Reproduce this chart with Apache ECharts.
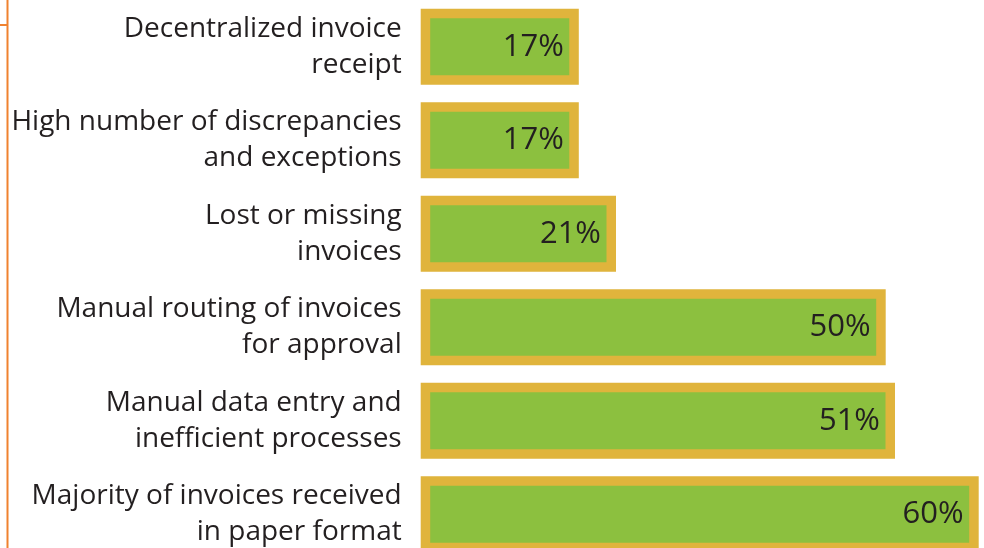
<!DOCTYPE html>
<html>
<head>
<meta charset="utf-8">
<script src="https://cdn.jsdelivr.net/npm/echarts@6/dist/echarts.min.js"></script>
<style>
  html, body { margin: 0; padding: 0; background: #fff; }
  #chart { width: 984px; height: 548px; }
</style>
</head>
<body>
<div id="chart"></div>
<script>
// top to bottom
const categories = [
  'Decentralized invoice\nreceipt',
  'High number of discrepancies\nand exceptions',
  'Lost or missing\ninvoices',
  'Manual routing of invoices\nfor approval',
  'Manual data entry and\ninefficient processes',
  'Majority of invoices received\nin paper format'
]
const percents = [17, 17, 21, 50, 51, 60]

const chart = echarts.init(document.getElementById('chart'))

chart.setOption({
  animation: false,
  grid: {
    left: 420.7,
    top: 0,
    width: 558,
    height: 561,
    outerBoundsMode: 'none',
    containLabel: false
  },
  xAxis: {
    type: 'value',
    min: 0,
    max: 60,
    show: false
  },
  yAxis: {
    type: 'category',
    inverse: true,
    data: categories,
    axisLine: { show: false },
    axisTick: { show: false },
    axisLabel: {
      margin: 19,
      fontFamily: 'Open Sans',
      fontSize: 28,
      lineHeight: 36,
      color: '#231f20',
      align: 'right'
    }
  },
  series: [{
    type: 'bar',
    data: percents,
    barWidth: 76,
    itemStyle: {
      color: '#8cc03f',
      borderColor: '#e0b43c',
      borderWidth: 9.5
    },
    label: {
      show: true,
      position: 'insideRight',
      distance: 15,
      formatter: '{c}%',
      fontFamily: 'Open Sans',
      fontSize: 31,
      color: '#231f20'
    }
  }],
  graphic: [
    {
      type: 'line',
      shape: { x1: 7.5, y1: 0, x2: 7.5, y2: 548 },
      style: { stroke: '#f0822f', lineWidth: 2 }
    },
    {
      type: 'line',
      shape: { x1: 0, y1: 25, x2: 7.5, y2: 25 },
      style: { stroke: '#f0822f', lineWidth: 2 }
    }
  ]
})
</script>
</body>
</html>
